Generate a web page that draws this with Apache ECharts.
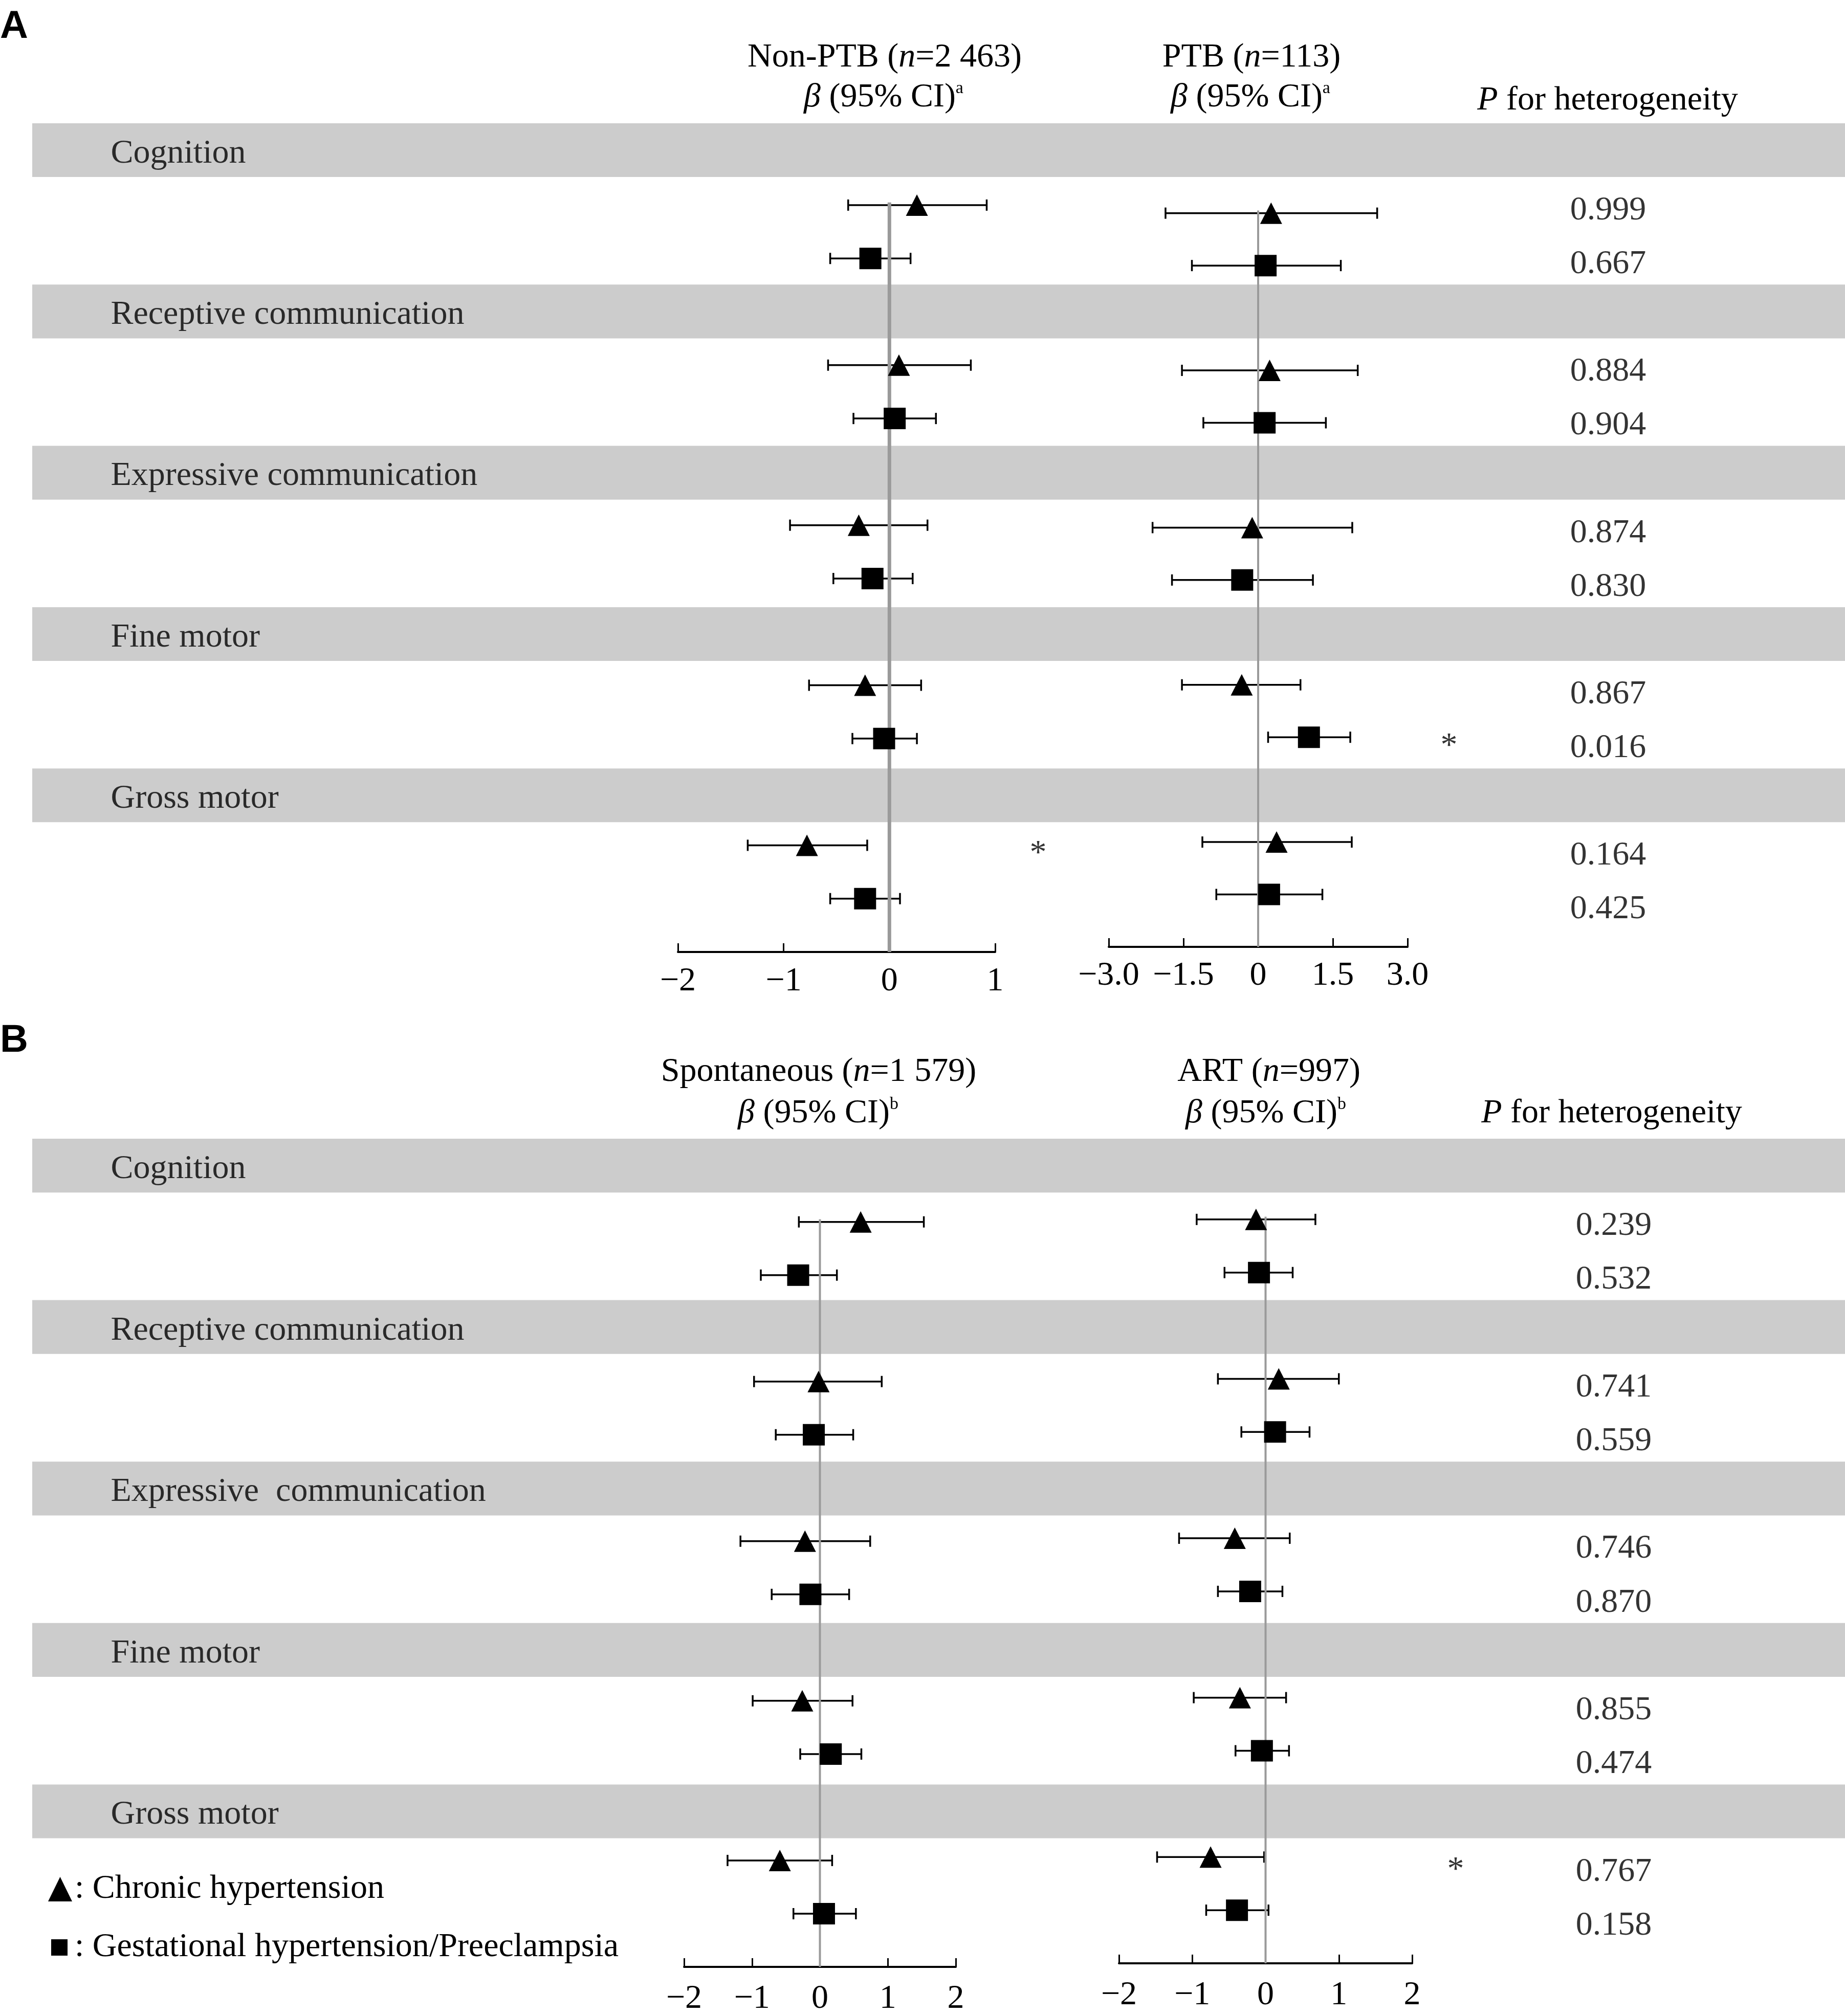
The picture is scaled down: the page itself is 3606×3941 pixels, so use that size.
<!DOCTYPE html>
<html>
<head>
<meta charset="utf-8">
<script src="https://cdn.jsdelivr.net/npm/echarts@6/dist/echarts.min.js"></script>
<style>
  html, body { margin: 0; padding: 0; background: #fff; }
  #chart { width: 3606px; height: 3941px; }
</style>
</head>
<body>
<div id="chart"></div>
<script>
// outcomes (band labels)
const outcomesA = ["Cognition", "Receptive communication", "Expressive communication", "Fine motor", "Gross motor"];
const outcomesB = ["Cognition", "Receptive communication", "Expressive  communication", "Fine motor", "Gross motor"];

// [beta, lower, upper] per outcome
const nonPtbChronic = [[0.26, -0.39, 0.92], [0.09, -0.58, 0.77], [-0.29, -0.94, 0.36], [-0.23, -0.76, 0.30], [-0.78, -1.34, -0.21]];
const nonPtbGest    = [[-0.18, -0.56, 0.20], [0.05, -0.34, 0.44], [-0.16, -0.53, 0.22], [-0.05, -0.35, 0.26], [-0.23, -0.56, 0.10]];
const ptbChronic    = [[0.26, -1.86, 2.39], [0.23, -1.53, 2.00], [-0.12, -2.12, 1.89], [-0.33, -1.53, 0.85], [0.37, -1.12, 1.88]];
const ptbGest       = [[0.15, -1.33, 1.66], [0.13, -1.10, 1.36], [-0.32, -1.73, 1.10], [1.02, 0.20, 1.85], [0.22, -0.84, 1.29]];
const spontChronic  = [[0.60, -0.31, 1.53], [-0.02, -0.97, 0.91], [-0.22, -1.17, 0.74], [-0.26, -0.99, 0.48], [-0.59, -1.36, 0.18]];
const spontGest     = [[-0.32, -0.87, 0.25], [-0.09, -0.65, 0.49], [-0.14, -0.71, 0.43], [0.16, -0.29, 0.61], [0.06, -0.39, 0.53]];
const artChronic    = [[-0.13, -0.94, 0.68], [0.18, -0.65, 1.00], [-0.42, -1.18, 0.33], [-0.35, -0.98, 0.28], [-0.75, -1.48, -0.02]];
const artGest       = [[-0.09, -0.56, 0.37], [0.13, -0.33, 0.60], [-0.21, -0.65, 0.23], [-0.05, -0.41, 0.32], [-0.39, -0.81, 0.04]];

// P for heterogeneity (chronic, gestational per outcome)
const pHetA = ["0.999", "0.667", "0.884", "0.904", "0.874", "0.830", "0.867", "0.016", "0.164", "0.425"];
const pHetB = ["0.239", "0.532", "0.741", "0.559", "0.746", "0.870", "0.855", "0.474", "0.767", "0.158"];

// significant markers: [column (0 left, 1 right), outcome, type (0 chronic, 1 gestational)]
const sigA = [[0, 4, 0], [1, 3, 1]];
const sigB = [[1, 4, 0]];

// tick labels
const ticksA1 = ["\u22122", "\u22121", "0", "1"];
const ticksA2 = ["\u22123.0", "\u22121.5", "0", "1.5", "3.0"];
const ticksB = ["\u22122", "\u22121", "0", "1", "2"];

const zeroLine = [[0, 1.45], [0, 15.5]];

const SERIF = "'Liberation Serif', 'Times New Roman', serif";
const FS = 66;
const CHRONIC = "Chronic hypertension";
const GEST = "Gestational hypertension/Preeclampsia";

function rowOf(i, k) { return i * 3 + 1.5 + k; }

let chart = echarts.init(document.getElementById("chart"));

let grids = [
  { left: 63, right: 0, top: 241, height: 1576.5 },     // 0 table A
  { left: 1325, width: 620, top: 244.5, height: 1616.5 }, // 1 A left
  { left: 2167, width: 584, top: 263, height: 1588 },     // 2 A right
  { left: 63, right: 0, top: 2226, height: 1578 },      // 3 table B
  { left: 1337, width: 531, top: 2232.6, height: 1614.4 }, // 4 B left
  { left: 2187, width: 573, top: 2228, height: 1610 }     // 5 B right
];

function tableX(g) {
  return { gridIndex: g, type: "value", min: 63, max: 3606, show: false };
}
function tableY(g) {
  return { gridIndex: g, type: "value", min: 0, max: 15, inverse: true, show: false };
}
function plotX(g, min, max, interval, labels, margin) {
  return {
    gridIndex: g, type: "value", min: min, max: max, interval: interval,
    position: "bottom",
    axisLine: { onZero: false, lineStyle: { color: "#000", width: 4 } },
    axisTick: { inside: true, length: 17, lineStyle: { color: "#000", width: 3 } },
    splitLine: { show: false },
    axisLabel: {
      margin: margin, color: "#000", fontFamily: SERIF, fontSize: FS,
      formatter: function(v) { return labels[Math.round((v - min) / interval)]; }
    }
  };
}
function plotY(g) {
  return { gridIndex: g, type: "value", min: 0, max: 15.5, inverse: true, show: false };
}

function ciSeries(ax, data, k) {
  return {
    type: "custom", xAxisIndex: ax, yAxisIndex: ax, z: 2, silent: true,
    encode: { x: [0, 1], y: 2 },
    data: data.map((d, i) => [d[1], d[2], rowOf(i, k)]),
    renderItem: function(params, api) {
      let y = api.value(2);
      let a = api.coord([api.value(0), y]);
      let b = api.coord([api.value(1), y]);
      let h = 11;
      let style = { stroke: "#000", lineWidth: 3.5 };
      return {
        type: "group",
        children: [
          { type: "line", shape: { x1: a[0], y1: a[1], x2: b[0], y2: b[1] }, style: style },
          { type: "line", shape: { x1: a[0], y1: a[1] - h, x2: a[0], y2: a[1] + h }, style: style },
          { type: "line", shape: { x1: b[0], y1: b[1] - h, x2: b[0], y2: b[1] + h }, style: style }
        ]
      };
    }
  };
}

function pointSeries(ax, data, k) {
  return {
    name: k === 0 ? CHRONIC : GEST,
    type: "scatter", xAxisIndex: ax, yAxisIndex: ax, z: 4, silent: true,
    symbol: k === 0 ? "triangle" : "rect",
    symbolSize: [43, 42],
    itemStyle: { color: "#000", opacity: 1 },
    data: data.map((d, i) => [d[0], rowOf(i, k)])
  };
}

function zeroSeries(ax, width) {
  return {
    type: "line", xAxisIndex: ax, yAxisIndex: ax, z: 3, silent: true,
    symbol: "none", data: zeroLine,
    lineStyle: { color: "#9a9a9a", width: width }
  };
}

function tableSeries(ax, outcomes, pHet, pX, sig, starX) {
  let hidden = { color: "rgba(0,0,0,0)" };
  return [
    {
      type: "scatter", xAxisIndex: ax, yAxisIndex: ax, z: 1, silent: true,
      symbolSize: 1, itemStyle: hidden,
      data: outcomes.map((o, i) => [216, i * 3 + 0.5, o]),
      label: {
        show: true, position: "right", distance: 0, offset: [0, 7],
        color: "#000", fontFamily: SERIF, fontSize: FS,
        formatter: p => p.value[2]
      },
      markArea: {
        silent: true,
        itemStyle: { color: "#cccccc" },
        data: outcomes.map((o, i) => [{ yAxis: i * 3 }, { yAxis: i * 3 + 1 }])
      }
    },
    {
      type: "scatter", xAxisIndex: ax, yAxisIndex: ax, z: 1, silent: true,
      symbolSize: 1, itemStyle: hidden,
      data: pHet.map((p, j) => [pX, rowOf(Math.floor(j / 2), j % 2), p]),
      label: {
        show: true, position: "inside", offset: [0, 13],
        color: "#000", fontFamily: SERIF, fontSize: FS,
        formatter: p => p.value[2]
      }
    },
    {
      type: "scatter", xAxisIndex: ax, yAxisIndex: ax, z: 1, silent: true,
      symbolSize: 1, itemStyle: hidden,
      data: sig.map(s => [starX[s[0]], rowOf(s[1], s[2]), "*"]),
      label: {
        show: true, position: "inside", offset: [0, 10],
        color: "#000", fontFamily: SERIF, fontSize: FS,
        formatter: p => p.value[2]
      }
    }
  ];
}

let rich = {
  r: { fontFamily: SERIF, fontSize: FS, lineHeight: 70, fill: "#000", color: "#000" },
  i: { fontFamily: SERIF, fontSize: FS, lineHeight: 70, fontStyle: "italic", fill: "#000", color: "#000" },
  s: { fontFamily: SERIF, fontSize: 34, lineHeight: 34, verticalAlign: "top", fill: "#000", color: "#000" }
};
function headText(x, y, text) {
  return {
    type: "text", x: x, y: y, silent: true,
    style: { text: text, rich: rich, fontFamily: SERIF, fontSize: FS, fill: "#000", align: "center", verticalAlign: "middle" }
  };
}
function panelLetter(y, text) {
  return {
    type: "text", x: 0, y: y, silent: true,
    style: { text: text, fontFamily: "'Liberation Sans', Arial, sans-serif", fontWeight: "bold", fontSize: 76, fill: "#000", align: "left", verticalAlign: "middle" }
  };
}

let option = {
  backgroundColor: "#fff",
  animation: false,
  grid: grids,
  xAxis: [
    tableX(0),
    plotX(1, -2, 1, 1, ticksA1, 25),
    plotX(2, -3, 3, 1.5, ticksA2, 24),
    tableX(3),
    plotX(4, -2, 2, 1, ticksB, 30),
    plotX(5, -2, 2, 1, ticksB, 30)
  ],
  yAxis: [tableY(0), plotY(1), plotY(2), tableY(3), plotY(4), plotY(5)],
  legend: [
    {
      data: [{ name: CHRONIC, icon: "triangle" }],
      left: 94, top: 3660, padding: 0, selectedMode: false,
      itemWidth: 47, itemHeight: 48,
      formatter: n => ": " + n,
      textStyle: { color: "#000", fontFamily: SERIF, fontSize: FS, lineHeight: 66 }
    },
    {
      data: [{ name: GEST, icon: "rect" }],
      left: 100, top: 3774, padding: 0, selectedMode: false,
      itemWidth: 32, itemHeight: 32,
      formatter: n => ": " + n,
      textStyle: { color: "#000", fontFamily: SERIF, fontSize: FS, lineHeight: 66, padding: [0, 0, 0, 9] }
    }
  ],
  graphic: [
    panelLetter(53, "A"),
    panelLetter(2035, "B"),
    headText(1729, 113, "{r|Non-PTB (}{i|n}{r|=2 463)}"),
    headText(1727, 191, "{i|\u03b2}{r| (95% CI)}{s|a}"),
    headText(2446, 113, "{r|PTB (}{i|n}{r|=113)}"),
    headText(2444, 191, "{i|\u03b2}{r| (95% CI)}{s|a}"),
    headText(3142, 197, "{i|P}{r| for heterogeneity}"),
    headText(1600, 2096, "{r|Spontaneous (}{i|n}{r|=1 579)}"),
    headText(1599, 2177, "{i|\u03b2}{r| (95% CI)}{s|b}"),
    headText(2480, 2096, "{r|ART (}{i|n}{r|=997)}"),
    headText(2474, 2177, "{i|\u03b2}{r| (95% CI)}{s|b}"),
    headText(3150, 2177, "{i|P}{r| for heterogeneity}")
  ],
  series: [].concat(
    tableSeries(0, outcomesA, pHetA, 3143, sigA, [2029, 2832]),
    tableSeries(3, outcomesB, pHetB, 3154, sigB, [2040, 2845]),
    [
      ciSeries(1, nonPtbChronic, 0), ciSeries(1, nonPtbGest, 1),
      zeroSeries(1, 7),
      pointSeries(1, nonPtbChronic, 0), pointSeries(1, nonPtbGest, 1),
      ciSeries(2, ptbChronic, 0), ciSeries(2, ptbGest, 1),
      zeroSeries(2, 4),
      pointSeries(2, ptbChronic, 0), pointSeries(2, ptbGest, 1),
      ciSeries(4, spontChronic, 0), ciSeries(4, spontGest, 1),
      zeroSeries(4, 4),
      pointSeries(4, spontChronic, 0), pointSeries(4, spontGest, 1),
      ciSeries(5, artChronic, 0), ciSeries(5, artGest, 1),
      zeroSeries(5, 4),
      pointSeries(5, artChronic, 0), pointSeries(5, artGest, 1)
    ]
  )
};

chart.setOption(option);
</script>
</body>
</html>
